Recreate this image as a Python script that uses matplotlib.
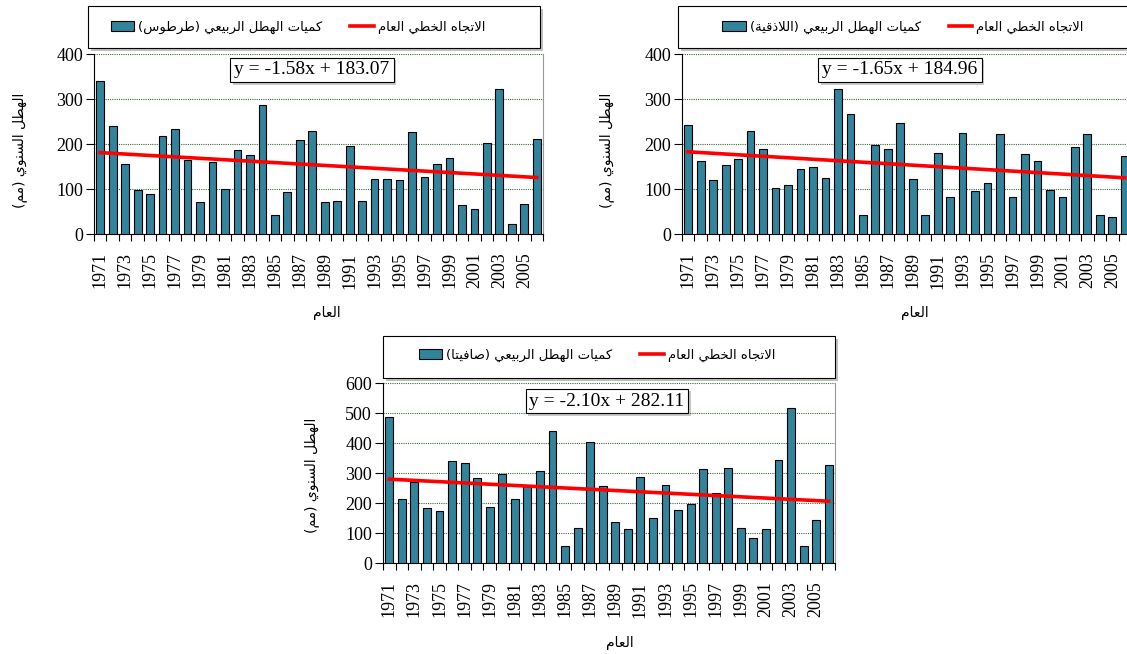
import numpy as np
import matplotlib
matplotlib.use("Agg")
import matplotlib.pyplot as plt
from matplotlib.patches import Patch, Rectangle
from matplotlib.lines import Line2D
import matplotlib.patheffects as pe

years = list(range(1971, 2007))

tartus = [341, 241, 157, 98, 89, 218, 233, 165, 72, 161, 100, 187, 176, 287, 42, 93, 210, 230,
          72, 74, 196, 74, 122, 122, 120, 228, 127, 157, 169, 65, 56, 202, 324, 24, 67, 211]
latakia = [244, 164, 120, 155, 167, 230, 189, 104, 109, 146, 150, 125, 322, 267, 42, 198, 189, 247,
           122, 42, 180, 82, 226, 96, 113, 224, 84, 178, 162, 98, 84, 193, 223, 44, 38, 173]
safita = [488, 215, 272, 185, 175, 341, 335, 283, 188, 297, 215, 258, 307, 440, 57, 116, 405, 256,
          137, 113, 287, 150, 260, 178, 199, 314, 235, 317, 119, 83, 113, 345, 516, 57, 144, 326]

# trend coefficients (x = 1..36)
trend_tartus = (-1.58, 183.07)
trend_latakia = (-1.65, 184.96)
trend_safita = (-2.10, 282.11)

bar_label_tartus = "كميات الهطل الربيعي (طرطوس)"
bar_label_latakia = "كميات الهطل الربيعي (اللاذقية)"
bar_label_safita = "كميات الهطل الربيعي (صافيتا)"
trend_label = "الاتجاه الخطي العام"
y_title = "الهطل السنوي (مم)"
x_title = "العام"

# arabic letters -> (isolated presentation form, number of forms)
AR_FORMS = {
    'ا': (0xFE8D, 2), 'ب': (0xFE8F, 4), 'ة': (0xFE93, 2), 'ت': (0xFE95, 4),
    'ج': (0xFE9D, 4), 'خ': (0xFEA5, 4), 'ذ': (0xFEAB, 2), 'ر': (0xFEAD, 2),
    'س': (0xFEB1, 4), 'ص': (0xFEB9, 4), 'ط': (0xFEC1, 4), 'ع': (0xFEC9, 4),
    'ف': (0xFED1, 4), 'ق': (0xFED5, 4), 'ك': (0xFED9, 4), 'ل': (0xFEDD, 4),
    'م': (0xFEE1, 4), 'ن': (0xFEE5, 4), 'ه': (0xFEE9, 4), 'و': (0xFEED, 2),
    'ي': (0xFEF1, 4),
}


def shape(text):
    """join arabic letters and put them in visual (right-to-left) order"""
    chars = list(text)
    n = len(chars)
    out = []

    def joins_prev(i):
        return i > 0 and chars[i - 1] in AR_FORMS and AR_FORMS[chars[i - 1]][1] == 4

    i = 0
    while i < n:
        c = chars[i]
        if c not in AR_FORMS:
            out.append(c)
            i += 1
            continue
        if c == 'ل' and i + 1 < n and chars[i + 1] == 'ا':
            out.append(chr(0xFEFC if joins_prev(i) else 0xFEFB))
            i += 2
            continue
        base, nforms = AR_FORMS[c]
        p = joins_prev(i)
        nx = nforms == 4 and i + 1 < n and chars[i + 1] in AR_FORMS
        form = 3 if (p and nx) else 1 if p else 2 if nx else 0
        out.append(chr(base + form))
        i += 1
    mirror = {'(': ')', ')': '('}
    return ''.join(mirror.get(c, c) for c in reversed(out))


W, H = 1127, 654
BAR = '#31849b'
AR_FONT = ['DejaVu Sans']
plt.rcParams['font.family'] = ['Liberation Serif', 'DejaVu Serif']

fig = plt.figure(figsize=(W / 100, H / 100), dpi=100)


def fx(x):
    return x / W


def fy(y):
    return 1 - y / H


def panel(rect, values, trend, bar_label, ymax, eq_xy, box, leg_xy, ylab_xy, xlab_xy):
    x0, y0, x1, y1 = rect
    ax = fig.add_axes([fx(x0), fy(y1), (x1 - x0) / W, (y1 - y0) / H])
    x = np.arange(len(values))
    ax.bar(x, values, width=0.62, color=BAR, edgecolor='black', linewidth=0.8, zorder=3)
    k, b = trend
    t = np.arange(1, len(values) + 1)
    ax.plot(x, k * t + b, color='red', lw=2.6, zorder=4)

    ax.set_xlim(-0.5, len(values) - 0.5)
    ax.set_ylim(0, ymax)
    ax.set_yticks(np.arange(0, ymax + 1, 100))
    ax.yaxis.grid(True, color='#3d6b3d', linestyle=(0, (1, 1)), lw=0.8, zorder=0)
    ax.set_xticks(x[::2])
    ax.set_xticklabels([str(y) for y in years[::2]], rotation=90)
    ax.set_xticks(np.arange(-0.5, len(values), 1), minor=True)
    ax.tick_params(axis='x', which='major', length=0, pad=13, labelsize=13)
    ax.tick_params(axis='x', which='minor', length=5, width=0.8)
    ax.tick_params(axis='y', length=6, width=0.8, labelsize=13, pad=2)
    ax.spines['top'].set_visible(False)
    ax.spines['right'].set_color('#999999')
    ax.spines['right'].set_linewidth(0.8)

    fig.text(fx(ylab_xy[0]), fy(ylab_xy[1]), shape(y_title), family=AR_FONT, fontsize=10,
             rotation=90, ha='center', va='center')
    fig.text(fx(xlab_xy[0]), fy(xlab_xy[1]), shape(x_title), family=AR_FONT, fontsize=10,
             ha='center', va='center')

    eq = "y = %.2fx + %.2f" % (k, b)
    txt = fig.text(fx(eq_xy[0]), fy(eq_xy[1]), eq, fontsize=14, ha='center', va='center',
                   bbox=dict(boxstyle='square,pad=0.2', fc='white', ec='black', lw=0.8))
    txt.get_bbox_patch().set_path_effects([pe.withSimplePatchShadow(offset=(2, -2), alpha=0.3)])

    # legend box with soft shadow
    bx0, by0, bx1, by1 = box
    fig.add_artist(Rectangle((fx(bx0 + 3), fy(by1 + 3)), (bx1 - bx0) / W, (by1 - by0) / H,
                             transform=fig.transFigure, fc='0.6', ec='none', alpha=0.6, zorder=1))
    fig.add_artist(Rectangle((fx(bx0), fy(by1)), (bx1 - bx0) / W, (by1 - by0) / H,
                             transform=fig.transFigure, fc='white', ec='black', lw=0.8, zorder=1.1))
    handles = [Patch(facecolor=BAR, edgecolor='black', linewidth=0.8),
               Line2D([], [], color='red', lw=2.6)]
    fig.legend(handles, [shape(bar_label), shape(trend_label)], ncol=2,
               loc='center', bbox_to_anchor=(fx(leg_xy[0]), fy(leg_xy[1])),
               prop={'family': AR_FONT, 'size': 9.5}, frameon=False,
               handlelength=1.8, handleheight=0.8, handletextpad=0.3,
               columnspacing=2.1, borderpad=0, borderaxespad=0)
    return ax


panel((94, 54.3, 543, 234.3), tartus, trend_tartus, bar_label_tartus, 400, (312, 70),
      (88, 6, 540, 48), (298, 27), (20, 150), (327, 313))
panel((682, 54.3, 1131, 234.3), latakia, trend_latakia, bar_label_latakia, 400, (900, 70),
      (678, 6, 1130, 48), (903, 27), (607, 150), (915, 313))
panel((383, 383, 835, 563.3), safita, trend_safita, bar_label_safita, 600, (607, 401),
      (383, 336, 835, 378), (597, 355), (312, 475), (620, 643))

fig.savefig('out.png', dpi=100)
